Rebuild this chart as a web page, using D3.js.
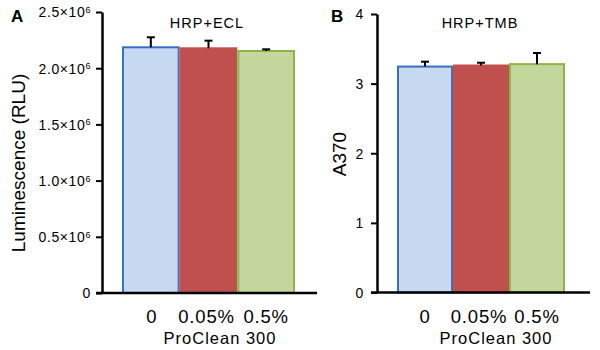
<!DOCTYPE html>
<html>
<head>
<meta charset="utf-8">
<script src="https://cdn.jsdelivr.net/npm/d3@7"></script>
<style>
  body { margin: 0; background: #fff; }
  text { font-family: "Liberation Sans", Arial, sans-serif; }
</style>
</head>
<body>
<svg id="chart" width="600" height="350"></svg>
<script>
// data
const categories = ["0", "0.05%", "0.5%"];
const eclValues = [2.186e6, 2.177e6, 2.153e6];
const eclErrors = [0.089e6, 0.068e6, 0.015e6];
const tmbValues = [3.245, 3.26, 3.28];
const tmbErrors = [0.07, 0.04, 0.16];
const eclTicks = [0, 0.5e6, 1.0e6, 1.5e6, 2.0e6, 2.5e6];
const tmbTicks = [0, 1, 2, 3, 4];
const fills = ["#c6d9f1", "#c0504d", "#c3d69b"];
const strokes = ["#3a70c0", "#c0504d", "#8fb443"];

const svg = d3.select("#chart");

function drawPanel(cfg) {
  const g = svg.append("g");
  const y = d3.scaleLinear().domain(cfg.domain).range([cfg.bottom, cfg.top]);
  const x = d3.scaleBand().domain(categories).range([cfg.barLeft, cfg.barRight]).padding(0);

  // bars
  g.selectAll("rect.bar")
    .data(cfg.values)
    .join("rect")
      .attr("class", "bar")
      .attr("x", (d, i) => x(categories[i]) + 1)
      .attr("width", x.bandwidth() - 2)
      .attr("y", d => y(d))
      .attr("height", d => y(0) - y(d))
      .attr("fill", (d, i) => fills[i])
      .attr("stroke", (d, i) => strokes[i])
      .attr("stroke-width", 2);

  // error bars (upper only)
  const err = g.selectAll("g.err")
    .data(cfg.values)
    .join("g")
      .attr("class", "err");
  err.append("line")
    .attr("x1", (d, i) => x(categories[i]) + x.bandwidth() / 2)
    .attr("x2", (d, i) => x(categories[i]) + x.bandwidth() / 2)
    .attr("y1", d => y(d))
    .attr("y2", (d, i) => y(d + cfg.errors[i]))
    .attr("stroke", "#000").attr("stroke-width", 2);
  err.append("line")
    .attr("x1", (d, i) => x(categories[i]) + x.bandwidth() / 2 - 4)
    .attr("x2", (d, i) => x(categories[i]) + x.bandwidth() / 2 + 4)
    .attr("y1", (d, i) => y(d + cfg.errors[i]))
    .attr("y2", (d, i) => y(d + cfg.errors[i]))
    .attr("stroke", "#000").attr("stroke-width", 2);

  // y axis
  const yAxis = d3.axisLeft(y).tickValues(cfg.ticks).tickSize(6).tickSizeOuter(0).tickFormat(() => "");
  const yg = g.append("g")
    .attr("transform", `translate(${cfg.axisX},0)`)
    .call(yAxis);
  yg.select(".domain").attr("stroke-width", 2.5);
  yg.selectAll(".tick line").attr("stroke-width", 2);
  yg.selectAll(".tick").each(function(d) {
    const t = d3.select(this).append("text")
      .attr("x", cfg.tickX).attr("dy", "0.35em")
      .attr("text-anchor", "end")
      .attr("fill", "#000")
      .attr("letter-spacing", 0.6)
      .attr("font-size", cfg.tickFont);
    cfg.label(t, d);
  });

  // x axis baseline
  g.append("line")
    .attr("x1", cfg.axisX - 6).attr("x2", cfg.axisRight)
    .attr("y1", y(0)).attr("y2", y(0))
    .attr("stroke", "#000").attr("stroke-width", 2.5);

  // x labels
  g.selectAll("text.xl")
    .data(categories)
    .join("text")
      .attr("class", "xl")
      .attr("x", (d, i) => x(d) + x.bandwidth() / 2 + cfg.xShift[i])
      .attr("y", 323)
      .attr("text-anchor", "middle")
      .attr("font-size", 18.5)
      .attr("letter-spacing", 0.8)
      .text(d => d);

  g.append("text")
    .attr("x", cfg.xTitleX).attr("y", 344)
    .attr("text-anchor", "middle").attr("font-size", 16.5)
    .attr("letter-spacing", 1)
    .text("ProClean 300");

  g.append("text")
    .attr("transform", `translate(${cfg.yTitleX},${cfg.yTitleY}) rotate(-90)`)
    .attr("text-anchor", "middle").attr("font-size", 19)
    .text(cfg.yTitle);

  g.append("text")
    .attr("x", cfg.titleX).attr("y", 28)
    .attr("text-anchor", "middle").attr("font-size", 14.5)
    .attr("letter-spacing", 1)
    .text(cfg.title);

  g.append("text")
    .attr("x", cfg.letterX).attr("y", 22)
    .attr("font-size", 17).attr("font-weight", "bold")
    .text(cfg.letter);
}

drawPanel({
  domain: [0, 2.5e6], top: 12, bottom: 293,
  barLeft: 122, barRight: 295, axisX: 102, axisRight: 317,
  values: eclValues, errors: eclErrors, ticks: eclTicks, tickFont: 14, tickX: -11,
  label: (t, d) => {
    if (d === 0) { t.text("0"); return; }
    t.append("tspan").text((d / 1e6).toFixed(1) + "×10");
    t.append("tspan").attr("font-size", 9).attr("dy", "-0.5em").text("6");
  },
  xShift: [1, -2, 0],
  xTitleX: 220, yTitleX: 25, yTitleY: 163, yTitle: "Luminescence (RLU)",
  titleX: 207, title: "HRP+ECL", letterX: 11, letter: "A"
});

drawPanel({
  domain: [0, 4], top: 14, bottom: 292.5,
  barLeft: 397, barRight: 565, axisX: 377, axisRight: 590,
  values: tmbValues, errors: tmbErrors, ticks: tmbTicks, tickFont: 14, tickX: -13,
  label: (t, d) => t.text(d),
  xShift: [0, -2, 0],
  xTitleX: 496, yTitleX: 346, yTitleY: 154, yTitle: "A370",
  titleX: 480, title: "HRP+TMB", letterX: 331, letter: "B"
});
</script>
</body>
</html>
